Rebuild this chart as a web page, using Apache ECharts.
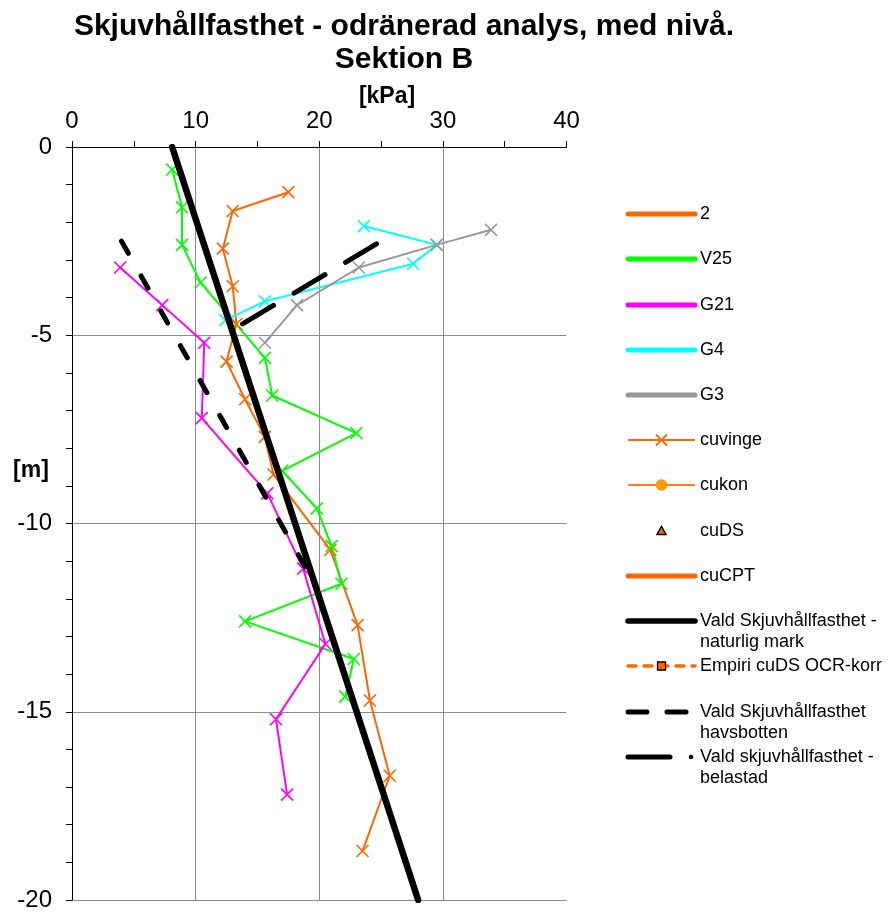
<!DOCTYPE html>
<html>
<head>
<meta charset="utf-8">
<title>Skjuvhållfasthet - Sektion B</title>
<script src="https://cdn.jsdelivr.net/npm/echarts@6/dist/echarts.min.js"></script>
<style>
  html, body { margin: 0; padding: 0; background: #ffffff; }
  #chart { width: 890px; height: 912px; }
</style>
</head>
<body>
<div id="chart"></div>
<script>
// Axis ticks
const kpaTicks = [0, 10, 20, 30, 40];
const depthTicks = [0, -5, -10, -15, -20];

// Vane tests (cuvinge) per borehole: depth [m] and shear strength [kPa]
const depth2 = [-1.2, -1.7, -2.7, -3.7, -4.7, -5.7, -6.7, -7.7, -8.7, -10.7, -12.7, -14.7, -16.7, -18.7];
const cu2 = [17.5, 13.0, 12.2, 13.0, 13.3, 12.5, 14.0, 15.6, 16.3, 20.9, 23.1, 24.1, 25.7, 23.5];

const depthV25 = [-0.6, -1.6, -2.6, -3.6, -5.6, -6.6, -7.6, -8.6, -9.6, -10.6, -11.6, -12.6, -13.6, -14.6];
const cuV25 = [8.1, 8.9, 8.9, 10.4, 15.6, 16.2, 23.0, 17.0, 19.8, 21.0, 21.8, 14.0, 22.8, 22.1];

const depthG21 = [-3.2, -4.2, -5.2, -7.2, -9.2, -11.2, -13.2, -15.2, -17.2];
const cuG21 = [3.9, 7.3, 10.7, 10.5, 15.8, 18.7, 20.5, 16.5, 17.4];

const depthG4 = [-2.1, -2.6, -3.1, -4.1, -4.6];
const cuG4 = [23.6, 29.5, 27.6, 15.6, 12.4];

const depthG3 = [-2.2, -2.6, -3.2, -4.2, -5.2];
const cuG3 = [33.9, 29.5, 23.2, 18.2, 15.6];

// Chosen design strengths (start and end points)
const naturligDepth = [0, -20];
const naturligCu = [8.1, 28.0];
const havsbottenDepth = [-2.5, -11.7];
const havsbottenCu = [4.0, 19.8];
const belastadDepth = [-4.7, -2.5];
const belastadCu = [13.8, 25.0];

// Legend entries
const legendNames = [
  '2', 'V25', 'G21', 'G4', 'G3', 'cuvinge', 'cukon', 'cuDS', 'cuCPT',
  'Vald Skjuvhållfasthet -\nnaturlig mark', 'Empiri cuDS OCR-korr',
  'Vald Skjuvhållfasthet\nhavsbotten', 'Vald skjuvhållfasthet -\nbelastad'
];

const FONT = '"Liberation Sans", Arial, sans-serif';
const COL = { o: '#FF6600', g: '#00FF00', m: '#FF00FF', c: '#00FFFF', gr: '#999999' };
const XMARK = 'path://M0,0L10,10M10,0L0,10';

function pairs(xs, ys) { return xs.map((x, i) => [x, ys[i]]); }

function vaneSeries(name, xs, ys, color) {
  return {
    type: 'line', name: name, data: pairs(xs, ys),
    lineStyle: { color: color, width: 2 },
    symbol: XMARK, symbolSize: 12, showAllSymbol: true,
    itemStyle: { color: color, borderColor: color, borderWidth: 1.6 },
    emphasis: { disabled: true }, z: 3
  };
}

// Legend drawn as graphic elements
const legendY = [214, 259, 305, 350, 395, 440, 485, 531, 576, 621, 666, 712, 757];
const LX0 = 628, LX1 = 695, LXM = 661.5, TX = 700;
const g = [];
function seg(x0, x1, y0, stroke, w, dash, y1) {
  g.push({ type: 'line', shape: { x1: x0, y1: y0, x2: x1, y2: (y1 === undefined ? y0 : y1) },
    style: { stroke: stroke, lineWidth: w, lineCap: 'round', lineDash: dash || null } });
}
const legendStyles = [
  () => seg(LX0, LX1, legendY[0], COL.o, 5),
  () => seg(LX0, LX1, legendY[1], COL.g, 5),
  () => seg(LX0, LX1, legendY[2], COL.m, 5),
  () => seg(LX0, LX1, legendY[3], COL.c, 5),
  () => seg(LX0, LX1, legendY[4], COL.gr, 5),
  () => {
    const y = legendY[5];
    seg(LX0 + 1, LX1 - 1, y, COL.o, 2);
    seg(LXM - 5, LXM + 5, y - 5, COL.o, 1.8, null, y + 5);
    seg(LXM + 5, LXM - 5, y - 5, COL.o, 1.8, null, y + 5);
  },
  () => {
    const y = legendY[6];
    seg(LX0 + 1, LX1 - 1, y, '#FF7A2A', 2);
    g.push({ type: 'circle', shape: { cx: LXM, cy: y, r: 5.8 }, style: { fill: '#FF9900' } });
  },
  () => {
    const y = legendY[7];
    g.push({ type: 'polygon', shape: { points: [[LXM, y - 4.5], [LXM + 4.5, y + 3.5], [LXM - 4.5, y + 3.5]] },
      style: { fill: COL.o, stroke: '#000', lineWidth: 1.5 } });
  },
  () => seg(LX0, LX1, legendY[8], COL.o, 5),
  () => seg(LX0, LX1, legendY[9], '#000', 5.5),
  () => {
    const y = legendY[10];
    seg(LX0, LX1, y, COL.o, 3.5, [8, 8]);
    g.push({ type: 'rect', shape: { x: LXM - 4, y: y - 4, width: 8, height: 8 },
      style: { fill: COL.o, stroke: '#000', lineWidth: 1.3 } });
  },
  () => {
    const y = legendY[11];
    seg(LX0, LX0 + 19, y, '#000', 5);
    seg(LX0 + 39, LX0 + 58, y, '#000', 5);
  },
  () => {
    const y = legendY[12];
    seg(LX0, LX0 + 42, y, '#000', 5);
    g.push({ type: 'circle', shape: { cx: LX0 + 63, cy: y, r: 2.3 }, style: { fill: '#000' } });
  }
];
legendStyles.forEach(fn => fn());
legendNames.forEach((name, i) => {
  g.push({ type: 'text', x: TX, y: legendY[i] - 10,
    style: { text: name, font: '18px ' + FONT, fill: '#000', lineHeight: 21, verticalAlign: 'top', align: 'left' } });
});
// Axis titles
g.push({ type: 'text', x: 387, y: 97, style: { text: '[kPa]', font: 'bold 23px ' + FONT, fill: '#000', align: 'center', verticalAlign: 'middle' } });
g.push({ type: 'text', x: 31, y: 471, style: { text: '[m]', font: 'bold 23px ' + FONT, fill: '#000', align: 'center', verticalAlign: 'middle' } });

const chart = echarts.init(document.getElementById('chart'), null, { renderer: 'canvas' });
chart.setOption({
  animation: false,
  backgroundColor: '#ffffff',
  title: {
    text: 'Skjuvhållfasthet - odränerad analys, med nivå.\nSektion B',
    left: 399, top: 5, textAlign: 'center',
    textStyle: { fontFamily: FONT, fontWeight: 'bold', fontSize: 30, lineHeight: 33, color: '#000' }
  },
  grid: { left: 72, top: 147, width: 494.5, height: 757, containLabel: false },
  xAxis: {
    type: 'value', position: 'top', min: kpaTicks[0], max: kpaTicks[kpaTicks.length - 1], interval: 10,
    axisLine: { onZero: false, lineStyle: { color: '#000', width: 1 } },
    axisTick: { show: true, length: 6, lineStyle: { color: '#000' } },
    minorTick: { show: true, splitNumber: 2, length: 6, lineStyle: { color: '#000' } },
    axisLabel: { fontFamily: FONT, fontSize: 24, color: '#000', margin: 14 },
    splitLine: { show: true, showMinLine: false, showMaxLine: false, lineStyle: { color: '#8c8c8c', width: 1 } }
  },
  yAxis: {
    type: 'value', min: depthTicks[depthTicks.length - 1], max: depthTicks[0], interval: 5,
    axisLine: { onZero: false, lineStyle: { color: '#000', width: 1 } },
    axisTick: { show: true, length: 6, lineStyle: { color: '#000' } },
    minorTick: { show: true, splitNumber: 5, length: 6, lineStyle: { color: '#000' } },
    axisLabel: { fontFamily: FONT, fontSize: 24, color: '#000', margin: 20 },
    splitLine: { show: true, showMaxLine: false, lineStyle: { color: '#8c8c8c', width: 1 } }
  },
  series: [
    vaneSeries('2', cu2, depth2, COL.o),
    vaneSeries('V25', cuV25, depthV25, COL.g),
    vaneSeries('G21', cuG21, depthG21, COL.m),
    vaneSeries('G4', cuG4, depthG4, COL.c),
    vaneSeries('G3', cuG3, depthG3, COL.gr),
    {
      type: 'line', name: 'Vald Skjuvhållfasthet - naturlig mark', data: pairs(naturligCu, naturligDepth),
      symbol: 'none', lineStyle: { color: '#000', width: 6.5, cap: 'round' }, z: 4
    },
    {
      type: 'line', name: 'Vald Skjuvhållfasthet havsbotten', data: pairs(havsbottenCu, havsbottenDepth),
      symbol: 'none', lineStyle: { color: '#000', width: 5, type: [14, 26], cap: 'round' }, z: 4
    },
    {
      type: 'line', name: 'Vald skjuvhållfasthet - belastad', data: pairs(belastadCu, belastadDepth),
      symbol: 'none', lineStyle: { color: '#000', width: 5, type: [36, 24], cap: 'round' }, z: 4
    }
  ],
  graphic: g
});
</script>
</body>
</html>
